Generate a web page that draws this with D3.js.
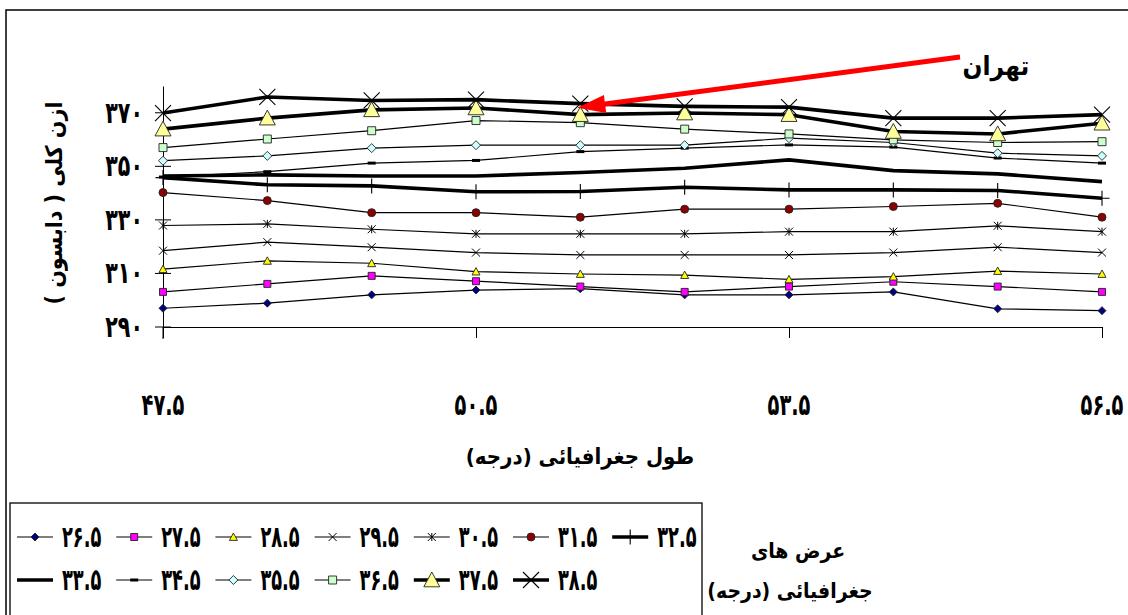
<!DOCTYPE html>
<html lang="fa">
<head>
<meta charset="utf-8">
<script src="https://cdn.jsdelivr.net/npm/d3@7"></script>
<style>
  html, body { margin: 0; padding: 0; background: #fff; }
  svg { display: block; }
  text { font-family: "DejaVu Sans Condensed", "DejaVu Sans", sans-serif; font-weight: bold; fill: #000; }
</style>
</head>
<body>
<svg id="chart" width="1128" height="615"></svg>
<script>
// Longitudes (degrees) along the horizontal axis
const longitudes = [47.5, 48.5, 49.5, 50.5, 51.5, 52.5, 53.5, 54.5, 55.5, 56.5];

// Total ozone (Dobson units) for each latitude band
const lat26_5 = [297.0, 298.9, 302.0, 303.8, 304.3, 302.0, 302.0, 303.1, 296.8, 296.1];
const lat27_5 = [303.1, 306.1, 309.1, 307.1, 305.1, 303.1, 305.1, 306.9, 305.1, 303.1];
const lat28_5 = [311.6, 314.7, 313.8, 310.7, 309.8, 309.4, 307.8, 308.8, 310.9, 309.8];
const lat29_5 = [318.5, 321.7, 319.8, 317.8, 316.9, 316.9, 316.9, 317.8, 319.8, 317.8];
const lat30_5 = [327.9, 328.5, 326.5, 324.8, 324.8, 324.8, 325.6, 325.6, 327.8, 325.6];
const lat31_5 = [340.2, 337.2, 332.7, 332.7, 331.0, 334.0, 334.0, 335.0, 336.2, 331.0];
const lat32_5 = [345.8, 343.1, 342.7, 340.5, 340.6, 342.2, 341.2, 341.2, 341.0, 338.1];
const lat33_5 = [346.4, 346.8, 346.4, 346.4, 347.7, 349.3, 352.4, 348.4, 347.2, 344.3];
const lat34_5 = [346.0, 348.0, 351.2, 352.2, 355.5, 356.8, 358.0, 357.2, 353.1, 351.2];
const lat35_5 = [352.1, 353.9, 356.8, 357.9, 357.9, 357.9, 360.5, 358.9, 354.9, 353.9];
const lat36_5 = [357.0, 360.2, 363.3, 367.1, 366.3, 363.9, 362.1, 359.9, 358.9, 359.2];
const lat37_5 = [363.9, 368.0, 371.1, 371.8, 369.3, 369.9, 369.3, 363.0, 362.1, 366.1];
const lat38_5 = [369.9, 375.9, 374.6, 374.9, 373.4, 372.4, 372.1, 368.0, 368.0, 369.3];

// Legend labels for the latitude bands
const latitudeLabels = ["۲۶.۵", "۲۷.۵", "۲۸.۵", "۲۹.۵", "۳۰.۵", "۳۱.۵", "۳۲.۵",
                        "۳۳.۵", "۳۴.۵", "۳۵.۵", "۳۶.۵", "۳۷.۵", "۳۸.۵"];

// Axis ticks and their labels
const yTicks = [290, 310, 330, 350, 370];
const yTickLabels = ["۲۹۰", "۳۱۰", "۳۳۰", "۳۵۰", "۳۷۰"];
const xTicks = [47.5, 50.5, 53.5, 56.5];
const xTickLabels = ["۴۷.۵", "۵۰.۵", "۵۳.۵", "۵۶.۵"];

// Annotated city
const cityName = "تهران";
const cityLongitude = 51.5;
const cityValue = 373.4;

const seriesValues = [lat26_5, lat27_5, lat28_5, lat29_5, lat30_5, lat31_5, lat32_5,
                      lat33_5, lat34_5, lat35_5, lat36_5, lat37_5, lat38_5];

// Drawing style per series: line width, marker kind, marker size, fill
const styles = [
  { w: 1.2, m: "diamond",  s: 8,  fill: "#000080" },
  { w: 1.2, m: "square",   s: 7,  fill: "#FF00FF" },
  { w: 1.2, m: "triangle", s: 8,  fill: "#FFFF00" },
  { w: 1.2, m: "times",    s: 8,  fill: "none" },
  { w: 1.2, m: "asterisk", s: 8,  fill: "none" },
  { w: 1.2, m: "circle",   s: 8,  fill: "#8B0000" },
  { w: 3.6, m: "plus",     s: 15, fill: "none" },
  { w: 3.6, m: "none",     s: 0,  fill: "none" },
  { w: 1.2, m: "dash",     s: 8,  fill: "none" },
  { w: 1.2, m: "diamond",  s: 9,  fill: "#CCFFFF" },
  { w: 1.2, m: "square",   s: 8,  fill: "#CCFFCC" },
  { w: 3.6, m: "triangle", s: 16, fill: "#FFFF99" },
  { w: 3.6, m: "times",    s: 16, fill: "none" }
];

const svg = d3.select("#chart");

// Numerals are set in a narrow, tall face: squeeze them horizontally, stretch vertically
const NUM_SIZE = 26, NUM_SY = 1.15;
function numLabel(parent, px, py, str, anchor, sx) {
  return parent.append("text")
    .attr("transform", `translate(${px},${py}) scale(${sx},${NUM_SY})`)
    .attr("dy", "0.33em").attr("text-anchor", anchor)
    .attr("font-size", NUM_SIZE).text(str);
}

// Outer frame
svg.append("rect").attr("x", 6).attr("y", 10).attr("width", 1140).attr("height", 640)
  .attr("fill", "none").attr("stroke", "#000").attr("stroke-width", 1.5);

const x = d3.scaleLinear().domain([47.5, 56.5]).range([163, 1102]);
const y = d3.scaleLinear().domain([290, 380]).range([327, 86]);

// Marker path for a given kind and size, centred on (0,0)
function markerPath(kind, s) {
  const h = s / 2;
  switch (kind) {
    case "diamond":  return `M0,${-h}L${h},0L0,${h}L${-h},0Z`;
    case "square":   return `M${-h},${-h}H${h}V${h}H${-h}Z`;
    case "triangle": return `M0,${-h}L${h},${h * 0.85}L${-h},${h * 0.85}Z`;
    case "circle":   return d3.symbol(d3.symbolCircle, Math.PI * h * h)();
    case "times":    return `M${-h},${-h}L${h},${h}M${-h},${h}L${h},${-h}`;
    case "asterisk": return `M${-h},${-h}L${h},${h}M${-h},${h}L${h},${-h}M0,${-h}V${h}`;
    case "plus":     return `M0,${-h}V${h}M${-h},0H${h}`;
    case "dash":     return `M${-h},-1.5H${h}V1.5H${-h}Z`;
    default:         return "";
  }
}
function markerAttrs(sel, st) {
  const filled = ["diamond", "square", "triangle", "circle"].includes(st.m);
  sel.attr("d", markerPath(st.m, st.s))
    .attr("fill", st.m === "dash" ? "#000" : (filled ? st.fill : "none"))
    .attr("stroke", st.m === "dash" ? "none" : (filled ? "#222" : "#000"))
    .attr("stroke-width", filled ? 0.9 : (st.s > 12 ? 1.1 : 1));
}

// Axes
const yAxis = d3.axisLeft(y).tickValues(yTicks).tickSize(0).tickFormat("");
svg.append("g").attr("transform", `translate(${x(47.5)},0)`).call(yAxis)
  .call(g => g.select(".domain").attr("stroke", "#000").attr("stroke-width", 1));
// cross ticks on the vertical axis
svg.append("g").selectAll("line").data(yTicks).join("line")
  .attr("x1", x(47.5) - 8).attr("x2", x(47.5) + 8)
  .attr("y1", d => y(d)).attr("y2", d => y(d))
  .attr("stroke", "#000").attr("stroke-width", 1);
svg.append("line").attr("x1", x(47.5)).attr("x2", x(47.5))
  .attr("y1", y(290)).attr("y2", y(290) + 12).attr("stroke", "#000");
const yLab = svg.append("g");
yTicks.forEach((v, i) => numLabel(yLab, 143, y(v), yTickLabels[i], "end", 0.88));

const xAxis = d3.axisBottom(x).tickValues(xTicks).tickSize(11).tickSizeOuter(0).tickFormat("");
svg.append("g").attr("transform", `translate(0,${y(290)})`).call(xAxis)
  .call(g => g.selectAll("line,path").attr("stroke", "#000").attr("stroke-width", 1));
const xLab = svg.append("g");
xTicks.forEach((v, i) => numLabel(xLab, x(v), 405, xTickLabels[i], "middle", 0.83));

// Axis titles
svg.append("text").attr("x", 580).attr("y", 464).attr("text-anchor", "middle")
  .attr("font-size", 22).text("طول جغرافیائی (درجه)");
svg.append("text").attr("transform", "translate(62,203) rotate(-90)")
  .attr("text-anchor", "middle").attr("font-size", 23).text("ازن کلی ( دابسون )");

// Series: line first, then markers, in order of latitude
const line = d3.line().x((d, i) => x(longitudes[i])).y(d => y(d));
seriesValues.forEach((vals, k) => {
  const st = styles[k];
  const g = svg.append("g").attr("class", "series");
  g.append("path").datum(vals).attr("d", line)
    .attr("fill", "none").attr("stroke", "#000").attr("stroke-width", st.w)
    .attr("stroke-linejoin", "round");
  if (st.m !== "none") {
    g.selectAll("path.mk").data(vals).join("path").attr("class", "mk")
      .attr("transform", (d, i) => `translate(${x(longitudes[i])},${y(d)})`)
      .call(markerAttrs, st);
  }
});

// Annotation arrow pointing at the city
const tip = [x(cityLongitude) - 3, y(cityValue) + 4];
const tail = [960, 57];
const dx = tail[0] - tip[0], dy = tail[1] - tip[1];
const len = Math.hypot(dx, dy), ux = dx / len, uy = dy / len;
const headLen = 28, headHalf = 9;
const base = [tip[0] + ux * headLen, tip[1] + uy * headLen];
svg.append("line").attr("x1", tail[0]).attr("y1", tail[1])
  .attr("x2", base[0]).attr("y2", base[1])
  .attr("stroke", "#FF0000").attr("stroke-width", 5);
svg.append("path").attr("d",
  `M${tip[0]},${tip[1]}L${base[0] - uy * headHalf},${base[1] + ux * headHalf}L${base[0] + uy * headHalf},${base[1] - ux * headHalf}Z`)
  .attr("fill", "#FF0000");
svg.append("text").attr("x", 996).attr("y", 75).attr("text-anchor", "middle")
  .attr("font-size", 26).text(cityName);

// Legend box
svg.append("rect").attr("x", 10).attr("y", 503).attr("width", 692).attr("height", 130)
  .attr("fill", "#fff").attr("stroke", "#000").attr("stroke-width", 1.3);
const legend = svg.append("g");
latitudeLabels.forEach((lab, k) => {
  const st = styles[k];
  const row = k < 7 ? 0 : 1, col = k < 7 ? k : k - 7;
  const lx = 17 + col * 99.2, ly = row === 0 ? 537 : 580;
  const item = legend.append("g").attr("transform", `translate(${lx},${ly})`);
  item.append("line").attr("x1", 0).attr("x2", 36).attr("y1", 0).attr("y2", 0)
    .attr("stroke", "#000").attr("stroke-width", st.w);
  if (st.m !== "none") {
    item.append("path").attr("transform", "translate(18,0)").call(markerAttrs, st);
  }
  numLabel(item, 45, 0, lab, "start", 0.76);
});

// Legend title
svg.append("text").attr("x", 798).attr("y", 558).attr("text-anchor", "middle")
  .attr("font-size", 21).text("عرض های");
svg.append("text").attr("x", 790).attr("y", 598).attr("text-anchor", "middle")
  .attr("font-size", 21).text("جغرافیائی (درجه)");
</script>
</body>
</html>
